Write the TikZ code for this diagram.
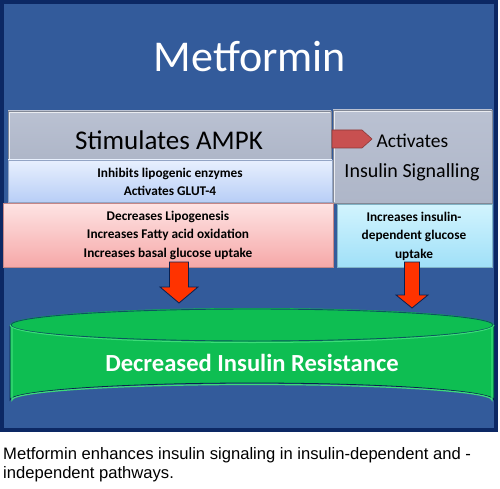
\documentclass[tikz,border=0pt]{standalone}
\usepackage{fontspec}
\setmainfont{Carlito}
\newfontfamily\capfont{Liberation Sans}
\definecolor{frame}{RGB}{12,40,100}
\definecolor{panel}{RGB}{51,91,155}
\definecolor{grayA}{RGB}{186,193,210}
\definecolor{grayB}{RGB}{174,182,200}
\definecolor{blueA}{RGB}{232,240,254}
\definecolor{blueB}{RGB}{184,206,246}
\definecolor{pinkA}{RGB}{254,228,228}
\definecolor{pinkB}{RGB}{246,168,168}
\definecolor{cyanA}{RGB}{210,244,254}
\definecolor{cyanB}{RGB}{160,224,248}
\definecolor{arrowred}{RGB}{255,51,0}
\definecolor{pentred}{RGB}{200,80,80}
\definecolor{green1}{RGB}{14,190,82}
\definecolor{green2}{RGB}{60,220,120}
\tikzset{
  graybox/.style={draw=grayB!75!black, line width=0.8pt, top color=grayA, bottom color=grayB},
  smallbold/.style={font=\bfseries\fontsize{13.3}{18.5}\selectfont, align=center},
  blockarrow/.style={draw=frame!80!black, fill=arrowred, line width=0.8pt, line join=miter}
}
\begin{document}
\begin{tikzpicture}[x=1pt,y=-1pt]
\useasboundingbox (0,0) rectangle (500,489);
\fill[white] (0,0) rectangle (500,489);
% frame
\fill[frame] (0,0) rectangle (498,432);
\fill[panel] (4,4) rectangle (494,428);
\node[text=white, font=\fontsize{44}{48}\selectfont] (met) at (250,57) {Metformin};
% gray boxes
\path[graybox] (8,111) rectangle (331,160);
\draw[white!70!grayA, line width=0.8pt] (9,159) -- (9,112) -- (330,112);
\node[font=\fontsize{27}{30}\selectfont] (ampk) at (169,140) {Stimulates AMPK};
\path[graybox] (333,110) rectangle (492,203);
\draw[white!70!grayA, line width=0.8pt] (334,202) -- (334,111) -- (491,111);
\node[font=\fontsize{19.5}{22}\selectfont, anchor=west] (act) at (373,141) {Activates};
\node[font=\fontsize{20}{22}\selectfont] (ins) at (412,172) {Insulin Signalling};
% pentagon arrow
\coordinate (pa) at (332,139);
\fill[pentred, draw=pentred!70!black, line width=0.6pt, shift={(pa)}] (0,-9) -- (30,-9) -- (40,0) -- (30,9) -- (0,9) -- cycle;
% light blue box
\path[draw=blueB!80!black, line width=0.6pt, top color=blueA, bottom color=blueB] (8,160) rectangle (332,202);
\node[smallbold] (inh) at (170,182) {Inhibits lipogenic enzymes\\Activates GLUT-4};
% pink box
\path[draw=pinkB!80!black, line width=0.6pt, top color=pinkA, bottom color=pinkB] (3,203) rectangle (333,267);
\node[smallbold] (dec) at (168,235) {Decreases Lipogenesis\\Increases Fatty acid oxidation\\Increases basal glucose uptake};
% cyan box
\path[draw=cyanB!80!black, line width=0.6pt, top color=cyanA, bottom color=cyanB] (337,204) rectangle (492,267);
\node[smallbold] (idep) at (414,236) {Increases insulin-\\dependent glucose\\uptake};
% cylinder
\fill[green1] (10,325) -- (10,400) arc[start angle=180, end angle=360, x radius=242, y radius=17] -- (494,325) -- cycle;
\draw[frame!80!black, line width=0.8pt] (10,325) -- (10,400) arc[start angle=180, end angle=360, x radius=242, y radius=17] -- (494,325);
\draw[green2, line width=1.2pt] (12,327) -- (12,400) arc[start angle=180, end angle=360, x radius=240, y radius=15.5] -- (492,327);
\fill[green1] (252,325) ellipse[x radius=242, y radius=17];
\draw[frame!70!green1, line width=0.9pt] (252,325) ellipse[x radius=241, y radius=16];
\draw[green2, line width=1pt] (10,325) arc[start angle=180, end angle=0, x radius=242, y radius=17.5];
\node[text=white, font=\bfseries\fontsize{24.6}{28}\selectfont] (res) at (252,363) {Decreased Insulin Resistance};
\coordinate (t1) at (179,303);
\coordinate (t2) at (412,308);
% arrows
\draw[blockarrow, shift={(t1)}] (-9.5,-41) -- (9.5,-41) -- (9.5,-16) -- (19,-16) -- (0,0) -- (-19,-16) -- (-9.5,-16) -- cycle;
\draw[blockarrow, shift={(t2)}] (-7.5,-46) -- (7.5,-46) -- (7.5,-13) -- (16,-13) -- (0,0) -- (-16,-13) -- (-7.5,-13) -- cycle;
% caption
\node[font=\capfont\fontsize{16.6}{19}\selectfont, anchor=north west, align=left, inner sep=0pt] (cap) at (3,447) {Metformin enhances insulin signaling in insulin-dependent and -\\independent pathways.};
\end{tikzpicture}
\end{document}
